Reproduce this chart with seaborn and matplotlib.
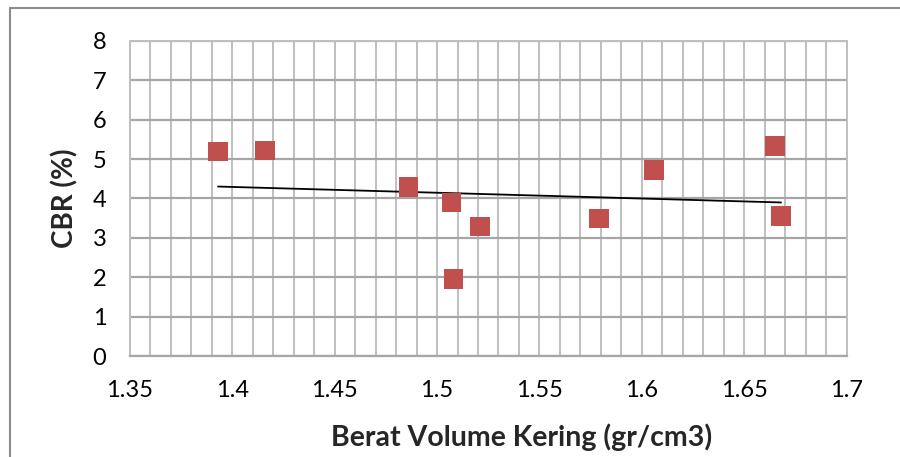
import numpy as np
import pandas as pd
import matplotlib
matplotlib.use("Agg")
import matplotlib.pyplot as plt
from matplotlib.patches import Rectangle
import seaborn as sns

# Dry unit weight (gr/cm3) and CBR (%) per sample
berat_volume = [1.393, 1.416, 1.486, 1.507, 1.508, 1.521, 1.579, 1.606, 1.665, 1.668]
cbr = [5.19, 5.22, 4.30, 3.90, 1.95, 3.29, 3.49, 4.72, 5.33, 3.56]

x_ticks = [1.35, 1.4, 1.45, 1.5, 1.55, 1.6, 1.65, 1.7]
x_tick_labels = ["1.35", "1.4", "1.45", "1.5", "1.55", "1.6", "1.65", "1.7"]
y_ticks = [0, 1, 2, 3, 4, 5, 6, 7, 8]

df = pd.DataFrame({"x": berat_volume, "y": cbr})

sns.set_style("white")
plt.rcParams["font.family"] = ["Lato", "DejaVu Sans"]

fig = plt.figure(figsize=(9, 4.57), dpi=100)
ax = fig.add_axes([0.1444, 0.221, 0.7962, 0.6893])

# Linear trend line across the data range
sns.regplot(data=df, x="x", y="y", ax=ax, scatter=False, ci=None, truncate=True,
            line_kws={"color": "black", "lw": 1.3, "zorder": 3})
sns.scatterplot(data=df, x="x", y="y", ax=ax, marker="s", s=200, color="#C0504D",
                edgecolor="none", zorder=4, legend=False)

ax.set_xlim(1.35, 1.7)
ax.set_ylim(0, 8)
ax.set_xticks(x_ticks)
ax.set_xticklabels(x_tick_labels)
ax.set_xticks(np.arange(1.35, 1.7001, 0.01), minor=True)
ax.set_yticks(y_ticks)

ax.grid(True, which="major", axis="y", color="#A6A6A6", lw=1.6, zorder=0)
ax.grid(True, which="both", axis="x", color="#BFBFBF", lw=1.4, zorder=0)
ax.set_axisbelow(True)

ax.tick_params(axis="both", which="both", length=0, labelsize=17, colors="black")
ax.tick_params(axis="x", pad=17)
ax.tick_params(axis="y", pad=17)

for side in ["top", "right", "left"]:
    ax.spines[side].set_color("#BFBFBF")
    ax.spines[side].set_linewidth(1.4)
ax.spines["bottom"].set_color("#A6A6A6")
ax.spines["bottom"].set_linewidth(1.6)

ax.set_xlabel("Berat Volume Kering (gr/cm3)", fontsize=20.5, fontweight="bold")
ax.xaxis.set_label_coords(0.546, -0.215)
ax.set_ylabel("CBR (%)", fontsize=20, fontweight="bold", labelpad=10)

# Chart area frame
fig.patches.append(Rectangle((10 / 900, -0.05), 1.2, (457 - 8) / 457 + 0.05,
                             transform=fig.transFigure, fill=False,
                             edgecolor="#8C8C8C", lw=1.5))

fig.savefig("out.png", dpi=100)
